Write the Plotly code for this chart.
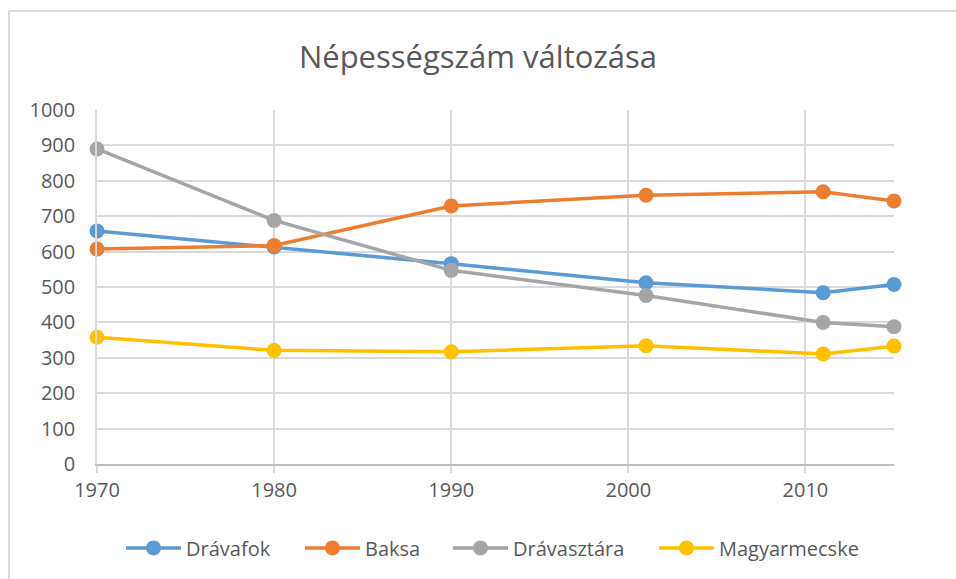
import plotly.graph_objects as go

years = [1970, 1980, 1990, 2001, 2011, 2015]
dravafok = [658, 613, 566, 512, 484, 507]
baksa = [607, 617, 729, 759, 769, 743]
dravasztara = [890, 688, 547, 476, 400, 388]
magyarmecske = [358, 321, 317, 334, 311, 333]

series = [
    ('Drávafok', dravafok, '#5B9BD5'),
    ('Baksa', baksa, '#ED7D31'),
    ('Drávasztára', dravasztara, '#A5A5A5'),
    ('Magyarmecske', magyarmecske, '#FFC000'),
]

FONT = 'Open Sans'
TXT = '#595959'

# left edge (px) of every legend entry, one legend per series
legend_left = [125, 304, 452, 658]
PLOT_L, PLOT_W = 97, 797

fig = go.Figure()
for i, (name, values, color) in enumerate(series):
    lg = 'legend' if i == 0 else f'legend{i + 1}'
    fig.add_trace(go.Scatter(x=years, y=values, name=name,
                             mode='lines+markers',
                             line={'color': color, 'width': 3.5},
                             marker={'color': color, 'size': 15},
                             cliponaxis=False,
                             legend=lg))

legends = {}
for i, left in enumerate(legend_left):
    lg = 'legend' if i == 0 else f'legend{i + 1}'
    legends[lg] = {
        'orientation': 'h',
        'x': (left - PLOT_L - 4) / PLOT_W, 'xanchor': 'left',
        'y': -0.237, 'yanchor': 'middle',
        'font': {'family': FONT, 'size': 20, 'color': TXT},
        'bgcolor': 'rgba(0,0,0,0)',
        'itemwidth': 55,
    }
fig.update_layout(legends)

fig.update_layout({
    'width': 956,
    'height': 579,
    'margin': {'l': 97, 'r': 62, 't': 110, 'b': 115},
    'paper_bgcolor': 'white',
    'plot_bgcolor': 'white',
    'font': {'family': FONT, 'color': TXT, 'size': 20},
    'title': {
        'text': 'Népességszám változása',
        'font': {'family': FONT, 'size': 31, 'color': TXT},
        'x': 0.5, 'xanchor': 'center',
        'y': 1 - 57 / 579, 'yanchor': 'middle', 'yref': 'container',
    },
    'showlegend': True,
    'xaxis': {
        'range': [1970, 2015],
        'tick0': 1970, 'dtick': 10,
        'showgrid': True, 'gridcolor': '#D9D9D9', 'gridwidth': 1.5,
        'showline': True, 'linecolor': '#BFBFBF', 'linewidth': 1.5,
        'ticks': 'outside', 'ticklen': 7, 'tickcolor': '#D9D9D9', 'tickwidth': 1.5,
        'zeroline': False,
        'tickfont': {'family': FONT, 'size': 20, 'color': TXT},
    },
    'yaxis': {
        'range': [0, 1000],
        'tick0': 0, 'dtick': 100,
        'showgrid': True, 'gridcolor': '#D9D9D9', 'gridwidth': 1.5,
        'showline': True, 'linecolor': '#D9D9D9', 'linewidth': 1.5,
        'ticks': '', 'ticklabelstandoff': 16,
        'zeroline': False,
        'tickfont': {'family': FONT, 'size': 20, 'color': TXT},
    },
    'shapes': [
        {'type': 'line', 'xref': 'paper', 'yref': 'paper',
         'x0': -88 / 797, 'x1': 1.2, 'y0': 1 + 99 / 354, 'y1': 1 + 99 / 354,
         'line': {'color': '#D9D9D9', 'width': 2}},
        {'type': 'line', 'xref': 'paper', 'yref': 'paper',
         'x0': -88 / 797, 'x1': -88 / 797, 'y0': -0.4, 'y1': 1 + 99 / 354,
         'line': {'color': '#D9D9D9', 'width': 2}},
    ],
})

# the page's default body margin shifts the chart, drop it
fig.write_html('out.html', config={'displayModeBar': False},
               post_script="document.body.style.margin='0';")
